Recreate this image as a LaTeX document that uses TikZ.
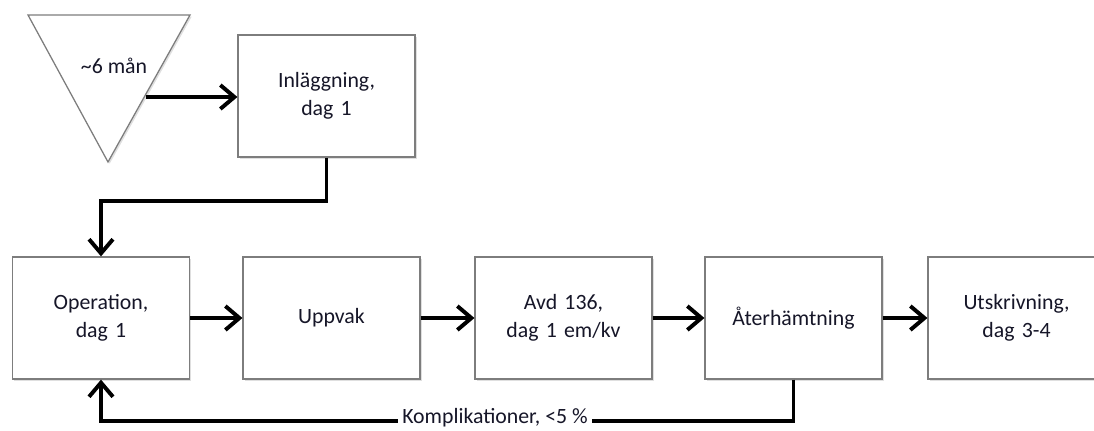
\documentclass[tikz,border=0pt]{standalone}
\usepackage{fontspec}
\setmainfont{Carlito}
\usetikzlibrary{arrows.meta,positioning,shadows}
\definecolor{fBorder}{RGB}{125,125,125}
\definecolor{fText}{RGB}{22,22,40}
\colorlet{fArrow}{black}

\begin{document}
\begin{tikzpicture}[
			x=0.025cm,y=-0.025cm,
			stepbox/.style={
				draw=fBorder,
				fill=white,
				line width=0.9pt,
				minimum width=4.42cm,
				minimum height=3.05cm,
				text width=4.2cm,
				align=center,
				inner sep=0pt,
				font=\fontsize{15.5}{19.5}\selectfont,
				text=fText,
				drop shadow={opacity=0.25,shadow xshift=1.2pt,shadow yshift=-1.2pt}
			},
			flow/.style={
				draw=fArrow,
				line width=2.8pt,
				-{Straight Barb[length=10pt,width=17pt]}
			}
			]
			\useasboundingbox (0,0) rectangle (1094,430);
			% start: triangle
			\draw[fBorder,fill=white,line width=0.9pt,
				drop shadow={opacity=0.25,shadow xshift=1.2pt,shadow yshift=-1.2pt}]
				(28,15) -- (190,15) -- (108,162) -- cycle;
			\node[font=\fontsize{15.5}{19.5}\selectfont,text=fText] (wait) at (114,66) {\textasciitilde 6 mån};
			\coordinate (wait-out) at (146,97);
			% top box
			\node[stepbox] (inl) at (326.5,96) {Inläggning,\\dag 1};
			% main row
			\node[stepbox] (op) at (101,318) {Operation,\\dag 1};
			\node[stepbox] (upp) at (331.5,318) {Uppvak};
			\node[stepbox] (avd) at (563.5,318) {Avd 136,\\dag 1 em/kv};
			\node[stepbox] (ath) at (793.5,318) {Återhämtning};
			\node[stepbox] (utsk) at (1016.5,318) {Utskrivning,\\dag 3-4};
			% connectors
			\draw[flow] (wait-out) -- (inl.west |- wait-out);
			\draw[flow] (inl.south) -- ++(0,43) -| (op.north);
			\draw[flow] (op) -- (upp);
			\draw[flow] (upp) -- (avd);
			\draw[flow] (avd) -- (ath);
			\draw[flow] (ath) -- (utsk);
			\draw[flow] (ath.south) -- ++(0,41) -| (op.south);
			\node[fill=white,inner xsep=3pt,inner ysep=0pt,font=\fontsize{15.5}{19.5}\selectfont,text=fText] (kompl) at (495,418) {Komplikationer, <5 \%};
		\end{tikzpicture}
\end{document}
